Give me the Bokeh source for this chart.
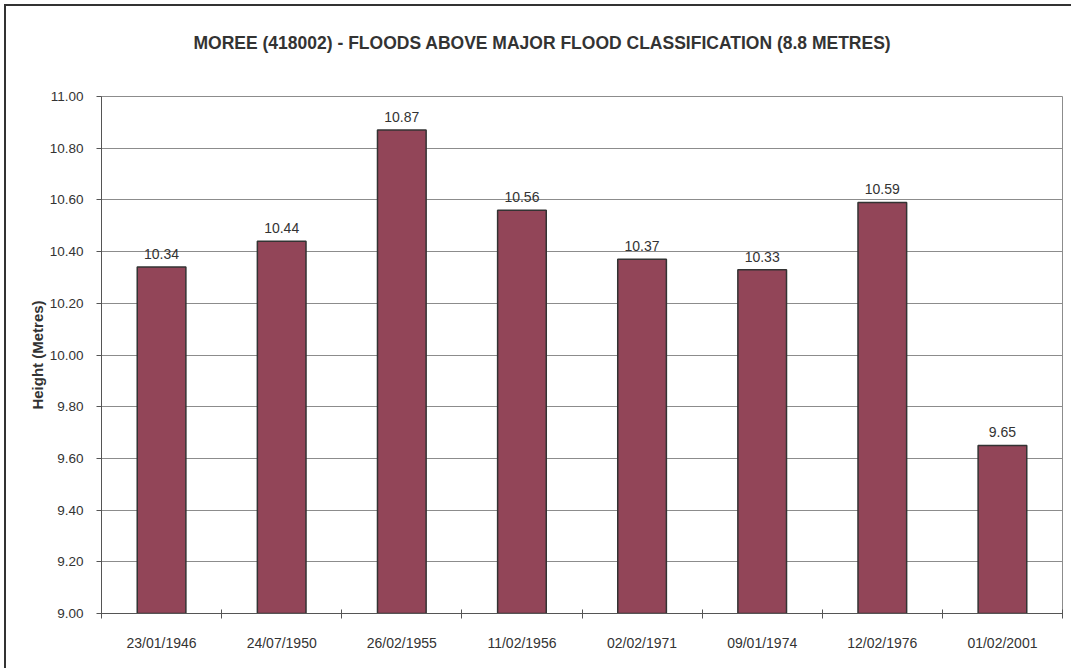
from bokeh.plotting import figure
from bokeh.models import (ColumnDataSource, FixedTicker, CustomJSTickFormatter,
                          PrintfTickFormatter, LabelSet, Title)
from bokeh.core.properties import value
from bokeh.embed import file_html
from bokeh.resources import INLINE

# Flood peaks above the major flood level at Moree (gauge 418002)
flood_dates = ["23/01/1946", "24/07/1950", "26/02/1955", "11/02/1956",
               "02/02/1971", "09/01/1974", "12/02/1976", "01/02/2001"]
peak_heights = [10.34, 10.44, 10.87, 10.56, 10.37, 10.33, 10.59, 9.65]
height_ticks = [9.00, 9.20, 9.40, 9.60, 9.80, 10.00, 10.20, 10.40, 10.60, 10.80, 11.00]

FONT = "Liberation Sans"
TEXT = "#333333"

n = len(flood_dates)
centers = [i + 0.5 for i in range(n)]
bounds = list(range(n + 1))
src = ColumnDataSource(dict(x=centers, top=peak_heights,
                            label=[f"{h:.2f}" for h in peak_heights]))

p = figure(width=1071, height=668, output_backend="svg", toolbar_location=None,
           x_range=(0, n), y_range=(height_ticks[0], height_ticks[-1]),
           min_border_left=101, min_border_right=9, min_border_top=96,
           min_border_bottom=55)

p.title.text = "MOREE (418002) - FLOODS ABOVE MAJOR FLOOD CLASSIFICATION (8.8 METRES)"
p.title.text_font = FONT
p.title.text_font_size = "17.5px"
p.title.text_font_style = "bold"
p.title.text_color = TEXT
p.title.align = "left"
p.title.offset = 92
p.title.standoff = 20

# spacer between the title and the plot area
p.add_layout(Title(text=" ", text_font_size="2px", standoff=30), "above")

# chart-area border on the page (left and top edges)
p.border_fill_alpha = 0
p.styles = {"background": "linear-gradient(#333,#333) 4px 4px / 2px 664px no-repeat, "
                          "linear-gradient(#333,#333) 4px 4px / 1067px 2px no-repeat, white"}
p.background_fill_color = "white"
p.outline_line_color = "#8c8c8c"
p.outline_line_width = 1

p.xgrid.visible = False
p.ygrid.ticker = FixedTicker(ticks=height_ticks)
p.ygrid.grid_line_color = "#8c8c8c"
p.ygrid.grid_line_width = 1

p.vbar(x="x", top="top", bottom=height_ticks[0], width=0.405, source=src,
       fill_color="#924558", line_color="#333333", line_width=1.5)

p.add_layout(LabelSet(x="x", y="top", text="label", source=src, y_offset=8,
                      text_align="center", text_baseline="alphabetic",
                      text_font=value(FONT), text_font_size=value("14px"),
                      text_color=TEXT))

ya = p.yaxis[0]
ya.ticker = FixedTicker(ticks=height_ticks)
ya.formatter = PrintfTickFormatter(format="%.2f")
ya.axis_line_color = "#555555"
ya.major_tick_line_color = "#555555"
ya.major_tick_out = 5
ya.major_tick_in = 0
ya.minor_tick_line_color = None
ya.major_label_standoff = 13
ya.major_label_text_font = FONT
ya.major_label_text_font_size = "13.5px"
ya.major_label_text_color = TEXT
ya.axis_label = "Height (Metres)"
ya.axis_label_text_font = FONT
ya.axis_label_text_font_size = "15px"
ya.axis_label_text_font_style = "bold"
ya.axis_label_text_color = TEXT
ya.axis_label_standoff = 1

xa = p.xaxis[0]
xa.ticker = FixedTicker(ticks=centers, minor_ticks=bounds)
xa.formatter = CustomJSTickFormatter(args=dict(labels=flood_dates),
                                     code="return labels[Math.floor(tick)];")
xa.axis_line_color = "#555555"
xa.major_tick_out = 0
xa.major_tick_in = 0
xa.minor_tick_line_color = "#555555"
xa.minor_tick_out = 5
xa.minor_tick_in = 4
xa.major_label_standoff = 16
xa.major_label_text_font = FONT
xa.major_label_text_font_size = "14px"
xa.major_label_text_color = TEXT

open("out.html", "w").write(file_html(p, INLINE))
